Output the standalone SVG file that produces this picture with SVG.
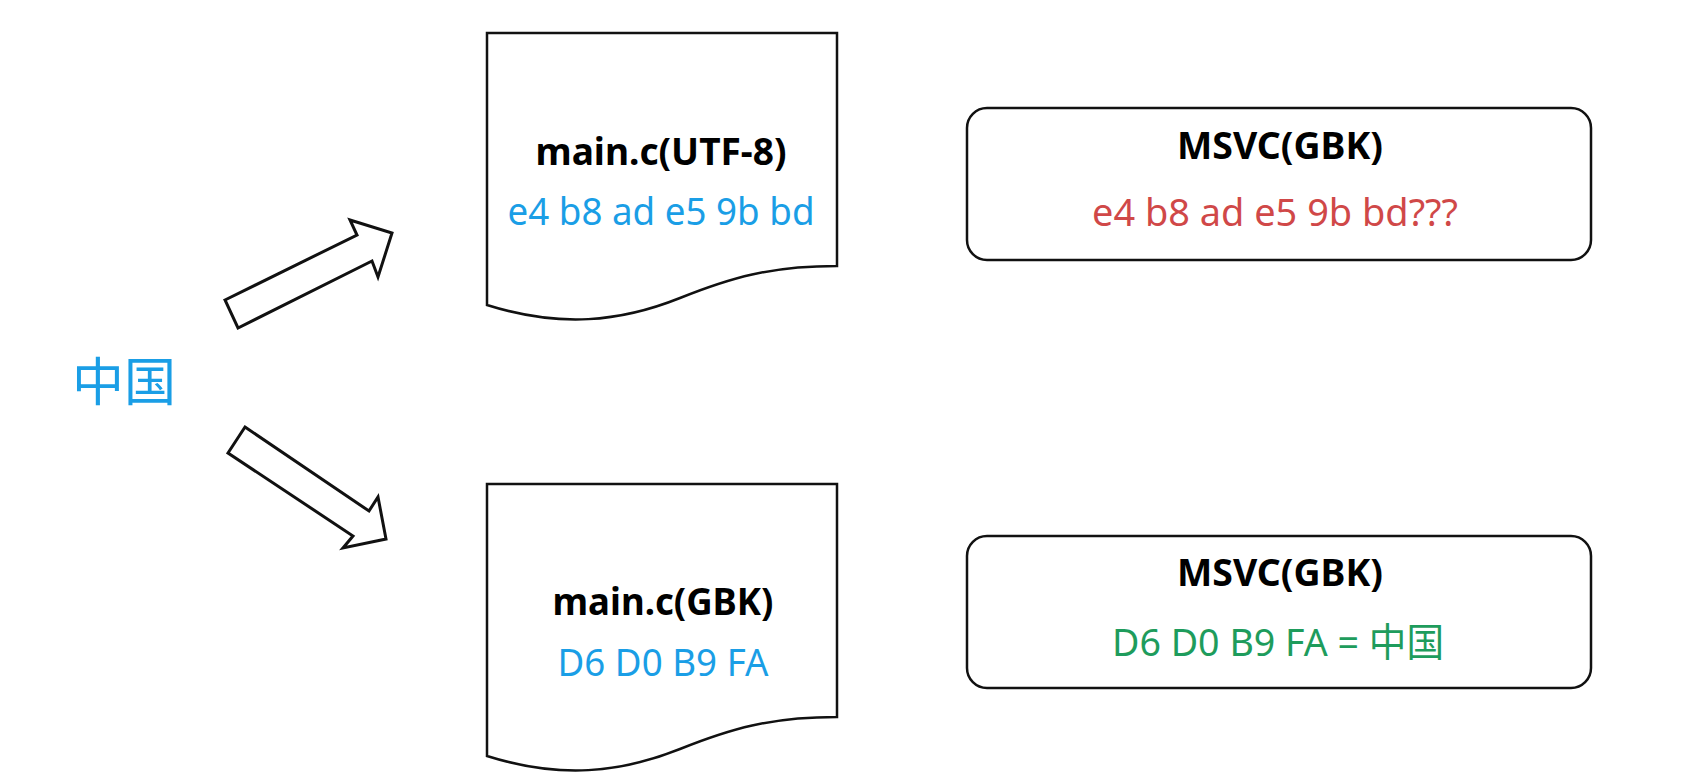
<svg xmlns="http://www.w3.org/2000/svg" width="1708" height="779" viewBox="0 0 1708 779">
<style>
.shape{fill:#fff;stroke:#111;stroke-width:2.5;stroke-linejoin:miter}
.arrow{stroke-width:3}
.title{font-family:"Noto Sans","Noto Sans CJK SC",sans-serif;font-weight:bold;font-size:38px;fill:#000;text-anchor:middle}
.body{font-family:"Noto Sans","Noto Sans CJK SC",sans-serif;font-size:39px;text-anchor:middle}
.blue{fill:#1a9ee6}
.red{fill:#d04848}
.green{fill:#1e9c5c}
</style>
<defs>
<path id="docshape" d="M487,33 H837 V266 C770,266 730,278 680,298 C620,322 560,328 487,305 Z"/>
</defs>
<rect width="1708" height="779" fill="#fff"/>
<g id="source">
<text x="72" y="401" font-family="Noto Sans CJK SC,sans-serif" font-size="52" class="blue">中国</text>
</g>
<g id="connectors">
<polygon class="shape arrow" points="225,300 357,235 350,220 392,233 378,277 372,261 238,328"/>
<polygon class="shape arrow" points="245,427 369,511 378,497 386,539 343,548 353,536 228,453"/>
</g>
<g id="doc-utf8">
<use href="#docshape" class="shape"/>
<text class="title" x="661" y="165" textLength="251" lengthAdjust="spacingAndGlyphs">main.c(UTF-8)</text>
<text class="body blue" x="661" y="225" textLength="307" lengthAdjust="spacingAndGlyphs">e4 b8 ad e5 9b bd</text>
</g>
<g id="doc-gbk">
<use href="#docshape" class="shape" transform="translate(0,451)"/>
<text class="title" x="663" y="615" textLength="221" lengthAdjust="spacingAndGlyphs">main.c(GBK)</text>
<text class="body blue" x="663" y="676" textLength="211" lengthAdjust="spacingAndGlyphs">D6 D0 B9 FA</text>
</g>
<g id="msvc-1">
<rect class="shape" x="967" y="108" width="624" height="152" rx="20" ry="20"/>
<text class="title" x="1280" y="159" textLength="206" lengthAdjust="spacingAndGlyphs">MSVC(GBK)</text>
<text class="body red" x="1275" y="226" textLength="366" lengthAdjust="spacingAndGlyphs">e4 b8 ad e5 9b bd???</text>
</g>
<g id="msvc-2">
<rect class="shape" x="967" y="536" width="624" height="152" rx="20" ry="20"/>
<text class="title" x="1280" y="586" textLength="206" lengthAdjust="spacingAndGlyphs">MSVC(GBK)</text>
<text class="body green" x="1278" y="656" textLength="332" lengthAdjust="spacingAndGlyphs">D6 D0 B9 FA = 中国</text>
</g>
</svg>
